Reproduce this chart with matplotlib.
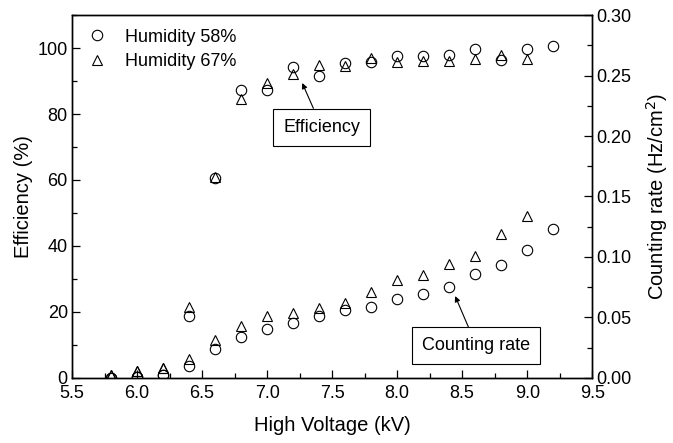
import matplotlib
matplotlib.use("Agg")
import matplotlib.pyplot as plt
from matplotlib.ticker import MultipleLocator

plt.rcParams['font.family'] = ['Liberation Sans', 'DejaVu Sans']

hv58 = [5.8, 6.0, 6.2, 6.4, 6.6, 6.8, 7.0, 7.2, 7.4, 7.6, 7.8, 8.0, 8.2, 8.4, 8.6, 8.8, 9.0, 9.2]
hv67 = [5.8, 6.0, 6.2, 6.4, 6.6, 6.8, 7.0, 7.2, 7.4, 7.6, 7.8, 8.0, 8.2, 8.4, 8.6, 8.8, 9.0]

eff58 = [0.1, 0.3, 0.8, 18.7, 60.6, 87.4, 87.4, 94.4, 91.4, 95.5, 95.8, 97.5, 97.5, 98.0, 99.8, 96.3, 99.8, 100.6]
eff67 = [0.8, 2.0, 3.1, 21.5, 60.8, 84.7, 89.5, 92.2, 95.0, 94.5, 97.0, 95.8, 96.1, 96.1, 96.6, 97.8, 96.6]

rate58 = [0.0003, 0.0008, 0.0022, 0.0098, 0.0235, 0.0338, 0.0404, 0.0455, 0.051, 0.056,
          0.059, 0.065, 0.069, 0.075, 0.0856, 0.0933, 0.106, 0.1235]
rate67 = [0.0022, 0.0055, 0.0085, 0.016, 0.031, 0.043, 0.051, 0.054, 0.058, 0.062,
          0.071, 0.081, 0.085, 0.094, 0.101, 0.119, 0.134]

fig = plt.figure(figsize=(6.73, 4.43), dpi=100)
ax = fig.add_axes([0.107, 0.147, 0.773, 0.819])
ax2 = ax.twinx()

mk = dict(linestyle='none', markerfacecolor='none', markeredgecolor='black',
          markeredgewidth=0.8, markersize=7.5)
ax.plot(hv58, eff58, marker='o', label='Humidity 58%', **mk)
ax.plot(hv67, eff67, marker='^', label='Humidity 67%', **mk)
ax2.plot(hv58, rate58, marker='o', **mk)
ax2.plot(hv67, rate67, marker='^', **mk)

ax.set_xlim(5.5, 9.5)
ax.set_ylim(0, 110)
ax2.set_ylim(0, 0.30)
ax.xaxis.set_major_locator(MultipleLocator(0.5))
ax.xaxis.set_minor_locator(MultipleLocator(0.25))
ax.yaxis.set_major_locator(MultipleLocator(20))
ax.yaxis.set_minor_locator(MultipleLocator(10))
ax2.yaxis.set_major_locator(MultipleLocator(0.05))
ax2.yaxis.set_minor_locator(MultipleLocator(0.025))
ax2.yaxis.set_major_formatter(plt.FormatStrFormatter('%.2f'))
ax.xaxis.set_major_formatter(plt.FormatStrFormatter('%.1f'))

for a in (ax, ax2):
    a.tick_params(which='major', direction='in', length=6, width=0.9, labelsize=13)
    a.tick_params(which='minor', direction='in', length=3.5, width=0.9)
    for s in a.spines.values():
        s.set_linewidth(1.0)
ax.tick_params(which='both', top=False, right=False)
ax.tick_params(axis='x', pad=5)
ax.tick_params(axis='y', pad=3)
ax2.tick_params(which='both', left=False)
ax2.tick_params(axis='y', pad=3)

ax.set_xlabel('High Voltage (kV)', fontsize=14.5, labelpad=10)
ax.set_ylabel('Efficiency (%)', fontsize=14.5, labelpad=3)
ax2.set_ylabel('Counting rate (Hz/cm$^2$)', fontsize=14.5, labelpad=9)

ax.legend(loc='upper left', frameon=False, fontsize=13, handletextpad=0.9,
          borderaxespad=0.2, borderpad=0.55, labelspacing=0.4, handlelength=1.3)

bbox = dict(boxstyle='square,pad=0.55', facecolor='white', edgecolor='black', linewidth=0.8)
arrow = dict(arrowstyle='-|>', color='black', linewidth=0.8, mutation_scale=8, shrinkA=0, shrinkB=0)
ax.annotate('Efficiency', xy=(7.27, 89.4), xytext=(7.42, 76), ha='center', va='center',
            fontsize=13, bbox=bbox, arrowprops=arrow)
ax.annotate('Counting rate', xy=(8.446, 24.8), xytext=(8.61, 9.7), ha='center', va='center',
            fontsize=13, bbox=bbox, arrowprops=arrow)

fig.savefig('out.png', dpi=100)
